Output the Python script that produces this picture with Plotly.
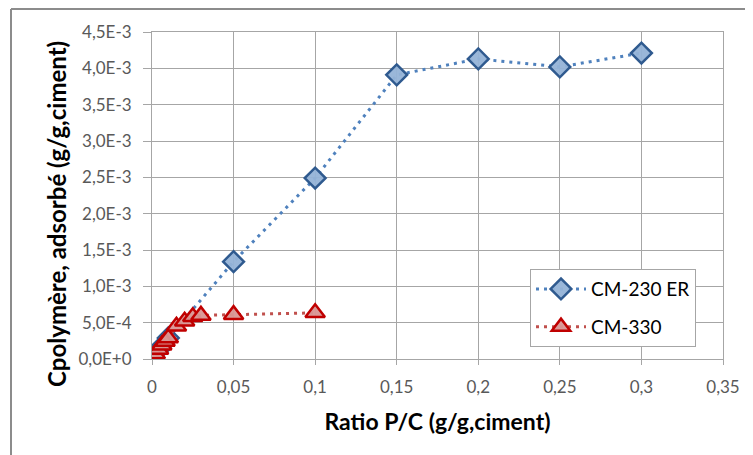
import plotly.graph_objects as go

# CM-230 ER series
x_cm230 = [0, 0.005, 0.01, 0.05, 0.1, 0.15, 0.2, 0.25, 0.3]
y_cm230 = [0.03e-3, 0.15e-3, 0.29e-3, 1.34e-3, 2.49e-3, 3.91e-3, 4.13e-3, 4.02e-3, 4.21e-3]

# CM-330 series
x_cm330 = [0, 0.002, 0.004, 0.006, 0.008, 0.01, 0.015, 0.02, 0.025, 0.03, 0.05, 0.1]
y_cm330 = [0.02e-3, 0.07e-3, 0.13e-3, 0.19e-3, 0.24e-3, 0.29e-3, 0.45e-3, 0.52e-3,
           0.58e-3, 0.60e-3, 0.61e-3, 0.635e-3]

y_tickvals = [0, 0.5e-3, 1.0e-3, 1.5e-3, 2.0e-3, 2.5e-3, 3.0e-3, 3.5e-3, 4.0e-3, 4.5e-3]
y_ticktext = ["0,0E+0", "5,0E-4", "1,0E-3", "1,5E-3", "2,0E-3", "2,5E-3",
              "3,0E-3", "3,5E-3", "4,0E-3", "4,5E-3"]
x_tickvals = [0, 0.05, 0.1, 0.15, 0.2, 0.25, 0.3, 0.35]
x_ticktext = ["0", "0,05", "0,1", "0,15", "0,2", "0,25", "0,3", "0,35"]

FONT = "Lato, 'Open Sans', sans-serif"
GRID = "#a6a6a6"

fig = go.Figure()
fig.add_trace(go.Scatter(
    x=x_cm230, y=y_cm230, name="CM-230 ER", mode="lines+markers",
    legendgroup="a",
    line=dict(color="#4f81bd", width=3, dash="3px,5px"),
    marker=dict(symbol="diamond", size=16, color="rgba(149,179,215,0.95)",
                line=dict(color="#2f5a8f", width=2.5)),
))
fig.add_trace(go.Scatter(
    x=x_cm330, y=y_cm330, name="CM-330", mode="lines+markers",
    legendgroup="b",
    line=dict(color="#c0504d", width=3, dash="3px,5px"),
    marker=dict(symbol="triangle-up", size=17, color="rgba(217,150,148,0.95)",
                line=dict(color="#c00000", width=2.5)),
))

top_y = 1.0 + 23 / 327
left_x = -141 / 571
fig.update_layout(
    width=745, height=447,
    margin=dict(l=144, r=30, t=24, b=96),
    paper_bgcolor="white", plot_bgcolor="white",
    font=dict(family=FONT, color="#595959", size=17),
    showlegend=True,
    legend=dict(
        x=0.662, y=0.275, xanchor="left", yanchor="top",
        bgcolor="white", bordercolor=GRID, borderwidth=1,
        font=dict(size=19, color="#000000"),
        tracegroupgap=10, itemwidth=50,
    ),
    xaxis=dict(
        range=[0, 0.35], tickvals=x_tickvals, ticktext=x_ticktext,
        showgrid=True, gridcolor=GRID, gridwidth=1,
        showline=True, linecolor=GRID, linewidth=1, mirror=True,
        ticks="outside", ticklen=5, tickcolor=GRID, ticklabelstandoff=8,
        zeroline=False,
        title=dict(text="<b>Ratio P/C (g/g,ciment)</b>", font=dict(size=23, color="#000000"), standoff=17),
    ),
    yaxis=dict(
        range=[0, 4.5e-3], tickvals=y_tickvals, ticktext=y_ticktext,
        showgrid=True, gridcolor=GRID, gridwidth=1,
        showline=True, linecolor=GRID, linewidth=1, mirror=True,
        ticks="outside", ticklen=8, tickcolor=GRID, ticklabelstandoff=8,
        zeroline=False,
    ),
    annotations=[
        dict(text="<b>Cpolymère, adsorbé (g/g,ciment)</b>", textangle=-90,
             xref="paper", yref="paper", x=-96 / 571, y=145 / 327,
             xanchor="center", yanchor="middle", showarrow=False,
             font=dict(size=24, color="#000000")),
    ],
    shapes=[
        dict(type="line", xref="paper", yref="paper", x0=left_x, x1=1.2, y0=top_y, y1=top_y,
             line=dict(color="#8c8c8c", width=2)),
        dict(type="line", xref="paper", yref="paper", x0=left_x, x1=left_x, y0=top_y, y1=-0.4,
             line=dict(color="#8c8c8c", width=2)),
    ],
)
fig.write_html("out.html")
